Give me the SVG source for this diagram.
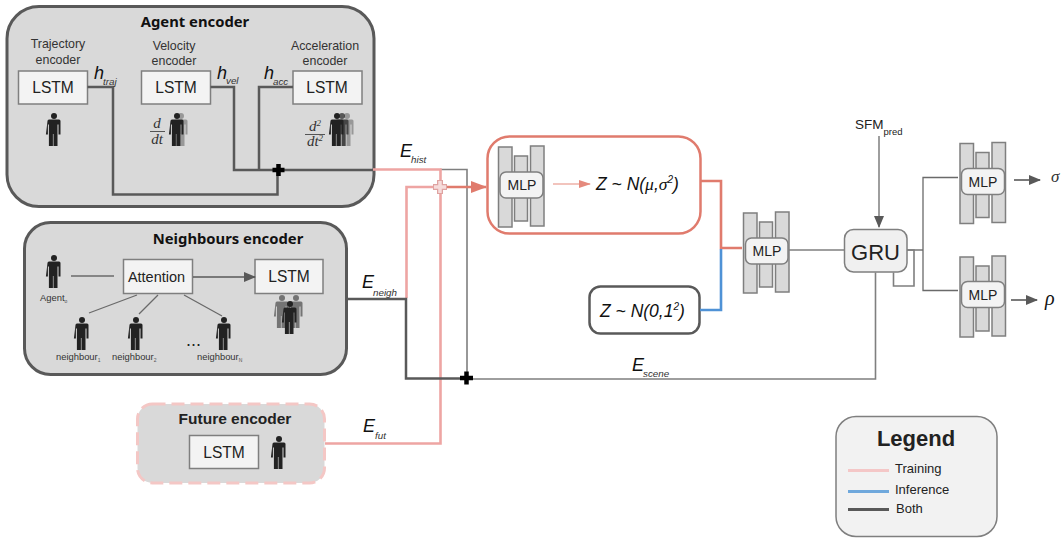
<svg xmlns="http://www.w3.org/2000/svg" xmlns:xlink="http://www.w3.org/1999/xlink" width="1063" height="538" viewBox="0 0 1063 538">
<style>
text{font-family:"Liberation Sans",Arial,sans-serif;fill:#222}
.title{font-family:"Noto Sans","Open Sans",sans-serif;font-weight:700;font-size:14.800px;fill:#111;text-anchor:middle}
.enc{fill:#d9d9d9;stroke:#595959;stroke-width:3}
.lstm{fill:#f3f3f3;stroke:#7f7f7f;stroke-width:1.5}
.lab{font-size:12.4px;text-anchor:middle;fill:#333}
.lt{font-size:15.6px;text-anchor:middle;fill:#222}
.small{font-size:9.4px;fill:#333}
.sub{font-size:5px;fill:#555}
.v{font-size:17.500px;font-style:italic;fill:#111}
.e{font-size:18px;font-style:italic;fill:#111}
.vs{font-size:9.800px;font-style:italic;fill:#333}
.bar{fill:#d9d9d9;stroke:#7f7f7f;stroke-width:1.5}
.mbox{fill:#f3f3f3;stroke:#7f7f7f;stroke-width:1.5}
.mt{font-size:14px;text-anchor:middle;fill:#222}
.c{fill:none;stroke-linejoin:miter}
.dark{stroke:#595959;stroke-width:2.5}
.gray{stroke:#7f7f7f;stroke-width:1.6}
.thin{stroke:#6a6a6a;stroke-width:1.3}
.pink{stroke:#eea5a3;stroke-width:2.6}
.red{stroke:#e07b6d;stroke-width:2.6}
.blue{stroke:#4f92d6;stroke-width:2.6}
.serif{font-family:"Liberation Serif",serif;font-style:italic;fill:#333}
</style>
<defs>
<g id="person"><circle cx="0" cy="3" r="3" fill="#222"/><path d="M-6.5 8a1.5 1.5 0 0 1 1.500-1.500h10a1.500 1.500 0 0 1 1.500 1.500v13.500h-2v-10h-1v21.500h-4v-12h-.6v12h-4v-21.500h-1v10h-2z" fill="#222"/></g>
<g id="mlpstack"><rect class="bar" x="0" y="1" width="13.500" height="80"/><rect class="bar" x="16" y="10" width="13" height="65"/><rect class="bar" x="32" y="0" width="13.500" height="80"/></g>
<marker id="ag" markerUnits="userSpaceOnUse" markerWidth="12" markerHeight="10" refX="11" refY="5" orient="auto"><path d="M0 0L12 5L0 10z" fill="#595959"/></marker>
<marker id="ar" markerUnits="userSpaceOnUse" markerWidth="12" markerHeight="8" refX="11" refY="4" orient="auto"><path d="M0 0L12 4L0 8z" fill="#e58a7d"/></marker>
<marker id="arb" markerUnits="userSpaceOnUse" markerWidth="16" markerHeight="12" refX="15" refY="6" orient="auto"><path d="M0 0L16 6L0 12z" fill="#e07b6d"/></marker>
</defs>

<g id="agent-encoder">
<rect class="enc" x="7" y="6.500" width="367" height="200" rx="32"/>
<text class="title" x="195" y="27">Agent encoder</text>
<text class="lab" x="58" y="48">Trajectory</text><text class="lab" x="58" y="64">encoder</text>
<text class="lab" x="174" y="50">Velocity</text><text class="lab" x="174" y="65">encoder</text>
<text class="lab" x="325" y="50">Acceleration</text><text class="lab" x="325" y="65">encoder</text>
<rect class="lstm" x="18.500" y="71" width="69" height="33"/><text class="lt" x="53" y="93">LSTM</text>
<rect class="lstm" x="141.500" y="71" width="69" height="33"/><text class="lt" x="176" y="93">LSTM</text>
<rect class="lstm" x="293" y="71" width="69" height="33"/><text class="lt" x="327" y="93">LSTM</text>
<use xlink:href="#person" href="#person" x="54" y="113"/>
<use href="#person" x="181" y="113" opacity=".35"/><use href="#person" x="177" y="113"/>
<use href="#person" x="347" y="113" opacity=".35"/><use href="#person" x="342" y="113" opacity=".7"/><use href="#person" x="337" y="113"/>
<text class="serif" x="157" y="128" font-size="15" text-anchor="middle">d</text><path d="M150 131.500h15" stroke="#555" stroke-width="1"/><text class="serif" x="157" y="144" font-size="15" text-anchor="middle">dt</text>
<text class="serif" x="315" y="131" font-size="15" text-anchor="middle">d<tspan font-size="9" dy="-5">2</tspan></text><path d="M305 134.500h20" stroke="#555" stroke-width="1"/><text class="serif" x="315" y="146" font-size="15" text-anchor="middle">dt<tspan font-size="9" dy="-5">2</tspan></text>
</g>

<g id="neighbours-encoder">
<rect class="enc" x="24.500" y="222.500" width="322" height="152" rx="26"/>
<text class="title" x="228" y="244">Neighbours encoder</text>
<rect class="lstm" x="123.500" y="259.500" width="69" height="34"/><text font-size="14.500" text-anchor="middle" x="156.500" y="282">Attention</text>
<rect class="lstm" x="255" y="259.500" width="68" height="34"/><text class="lt" x="289" y="282">LSTM</text>
<use href="#person" x="54" y="255"/>
<text class="small" x="40" y="301">Agent<tspan class="sub" dy="2">o</tspan></text>
<use href="#person" x="82" y="317"/><use href="#person" x="136" y="317"/><use href="#person" x="224" y="317"/>
<text class="small" x="56" y="360">neighbour<tspan class="sub" dy="2">1</tspan></text>
<text class="small" x="112" y="360">neighbour<tspan class="sub" dy="2">2</tspan></text>
<text class="small" x="197" y="360">neighbour<tspan class="sub" dy="2">N</tspan></text>
<text x="186" y="346" font-size="18" fill="#111">...</text>
<use href="#person" x="282" y="295" opacity=".55"/><use href="#person" x="296" y="295" opacity=".55"/><use href="#person" x="290" y="301"/>
</g>

<g id="future-encoder">
<rect x="137.500" y="404" width="187" height="79" rx="15" fill="#d9d9d9" stroke="#f4c7c5" stroke-width="3" stroke-dasharray="13 6"/>
<text x="235" y="424" font-size="15.500" font-weight="700" text-anchor="middle" fill="#111">Future encoder</text>
<rect class="lstm" x="189.500" y="435.500" width="69" height="33"/><text class="lt" x="224" y="458">LSTM</text>
<use href="#person" x="279" y="436"/>
</g>

<g id="posterior">
<rect x="487.500" y="136.500" width="213" height="97" rx="22" fill="#fff" stroke="#e07b6d" stroke-width="2.500"/>
<use href="#mlpstack" x="498.500" y="146"/>
<rect class="mbox" x="500" y="172" width="43" height="26" rx="6"/><text class="mt" x="522" y="190">MLP</text>
<text class="v" x="596" y="190">Z ~ N(<tspan font-family="Liberation Serif">μ</tspan>,<tspan font-family="Liberation Serif">σ</tspan><tspan font-size="10" dy="-7">2</tspan><tspan dy="7">)</tspan></text>
</g>

<g id="prior">
<rect x="589.500" y="286.500" width="110" height="47" rx="11" fill="#fff" stroke="#595959" stroke-width="2.500"/>
<text class="v" x="600" y="317">Z ~ N(0,1<tspan font-size="10" dy="-7">2</tspan><tspan dy="7">)</tspan></text>
</g>

<g id="mlp-merge">
<use href="#mlpstack" x="743.500" y="212"/>
<rect class="mbox" x="745.500" y="238" width="42.500" height="26" rx="6"/><text class="mt" x="767" y="256">MLP</text>
</g>

<g id="gru">
<rect x="844.500" y="229.500" width="62.500" height="42.500" rx="9" fill="#f0f0f0" stroke="#7f7f7f" stroke-width="1.500"/>
<text x="875.500" y="259.500" font-size="22" text-anchor="middle" fill="#111">GRU</text>
</g>
<g id="sfm"><text x="855" y="129" font-size="13.500" fill="#333">SFM<tspan font-size="9.500" dy="6">pred</tspan></text></g>

<g id="mlp-sigma">
<use href="#mlpstack" x="960" y="142.500"/>
<rect class="mbox" x="961.500" y="168.500" width="43" height="26" rx="6"/><text class="mt" x="983" y="186.500">MLP</text>
<text x="1051" y="182" font-size="17" class="serif">σ</text>
</g>
<g id="mlp-rho">
<use href="#mlpstack" x="960" y="256"/>
<rect class="mbox" x="961.500" y="281.500" width="43" height="26" rx="6"/><text class="mt" x="983" y="299.500">MLP</text>
<text x="1045" y="305" font-size="20" class="serif" style="fill:#111">ρ</text>
</g>

<g id="connectors">
<path class="c gray" d="M440 169.500H467V378"/>
<path class="c dark" d="M87.500 87H113V194.500H277.500V172"/>
<path class="c dark" d="M210.500 87H234V170H373"/>
<path class="c dark" d="M293 87H259V170"/>
<path class="c pink" d="M373 169.500H440.500V443.500H325"/>
<path class="c pink" d="M406.500 298V187H440"/>
<path class="c red" d="M440 187H486" marker-end="url(#arb)"/>
<path class="c dark" d="M347 299H406V378.500H466"/>
<path class="c gray" d="M466 379H875.500V272.500"/>
<path class="c thin" d="M71 276H114"/>
<path class="c gray" d="M193 277H255" marker-end="url(#ag)" style="stroke:#595959"/>
<path class="c thin" d="M137 295L89 313M158 295L139 314M184 295L222 316"/>
<path class="c red" style="stroke-width:1.100;stroke:#e58a7d" d="M553 184H590" marker-end="url(#ar)"/>
<path class="c red" d="M701 181H721V248H742"/>
<path class="c blue" d="M700 310H721V249"/>
<path class="c gray" d="M789 250H844"/>
<path class="c thin" d="M879 136V227" marker-end="url(#ag)"/>
<path class="c gray" d="M907 250H914V286H893.500V272.500"/>
<path class="c gray" d="M907 250H923"/>
<path class="c thin" d="M958 177.500H923V290.500H958"/>
<path class="c gray" style="stroke:#595959" d="M1014 180H1040" marker-end="url(#ag)"/>
<path class="c gray" style="stroke:#595959" d="M1011 300H1037" marker-end="url(#ag)"/>
<path d="M272.500 170h12M278.500 164v12" stroke="#000" stroke-width="4.500" fill="none"/>
<path d="M460 378h13M466.500 371.500v13" stroke="#000" stroke-width="4.500" fill="none"/>
<path d="M433 187h14M440 180v14" stroke="#dfa3a1" stroke-width="6" fill="none"/>
<path d="M434 187h12M440 181v12" stroke="#f6dcdb" stroke-width="3.500" fill="none"/>
</g>

<g id="edge-labels">
<text class="e" x="94" y="79">h</text><text class="vs" x="103" y="85">traj</text>
<text class="e" x="217" y="79">h</text><text class="vs" x="226" y="84">vel</text>
<text class="e" x="264" y="79">h</text><text class="vs" x="273" y="85">acc</text>
<text class="e" x="400" y="157">E</text><text class="vs" x="411" y="163">hist</text>
<text class="e" x="362" y="288">E</text><text class="vs" x="373" y="296">neigh</text>
<text class="e" x="363" y="432">E</text><text class="vs" x="375" y="439">fut</text>
<text class="e" x="632" y="371">E</text><text class="vs" x="643" y="377">scene</text>
</g>

<g id="legend">
<rect x="836" y="416.500" width="161" height="120" rx="20" fill="#f2f2f2" stroke="#7f7f7f" stroke-width="1.500"/>
<text x="916" y="446" font-size="22" font-weight="700" text-anchor="middle" fill="#111">Legend</text>
<path d="M848 470.500h41" stroke="#f4c7c7" stroke-width="3"/>
<path d="M848 491.500h41" stroke="#6fa8dc" stroke-width="3"/>
<path d="M848 509.500h41" stroke="#595959" stroke-width="3"/>
<text x="895" y="473" font-size="13">Training</text>
<text x="895" y="494" font-size="13">Inference</text>
<text x="896" y="513" font-size="13">Both</text>
</g>
</svg>
